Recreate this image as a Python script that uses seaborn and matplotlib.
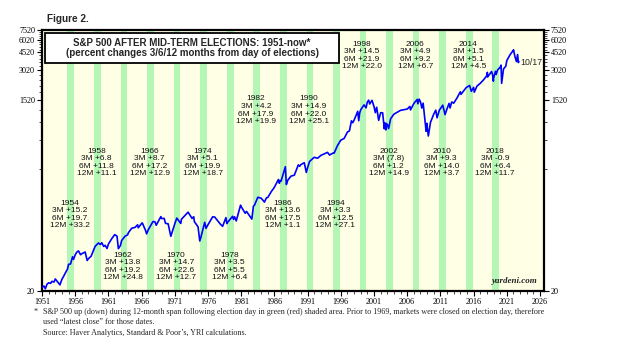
import matplotlib
matplotlib.use("Agg")
import matplotlib.pyplot as plt
from matplotlib.patches import Rectangle
from matplotlib.ticker import FixedLocator, NullFormatter
import seaborn as sns
import pandas as pd
import numpy as np

# S&P 500 (decimal year, index level)
spx_dates = [
    1951.0, 1951.3, 1951.5, 1951.75, 1952.0, 1952.3, 1952.5, 1952.8, 1953.0, 1953.2,
    1953.7, 1954.0, 1954.3, 1954.6, 1954.84, 1955.0, 1955.3, 1955.6, 1955.75, 1956.0,
    1956.25, 1956.5, 1956.8, 1957.0, 1957.5, 1957.8, 1958.0, 1958.4, 1958.84, 1959.0,
    1959.5, 1959.8, 1960.0, 1960.3, 1960.5, 1960.8, 1961.0, 1961.5, 1961.95, 1962.3,
    1962.5, 1962.8, 1963.0, 1963.5, 1963.9, 1964.0, 1964.5, 1965.0, 1965.4, 1965.5,
    1966.0, 1966.1, 1966.6, 1966.75, 1967.0, 1967.7, 1968.0, 1968.2, 1968.9, 1969.0,
    1969.4, 1969.6, 1970.0, 1970.4, 1970.8, 1971.0, 1971.3, 1971.9, 1972.0, 1972.9,
    1973.0, 1973.6, 1973.85, 1973.95, 1974.5, 1974.76, 1974.95, 1975.5, 1975.7, 1976.0,
    1976.7, 1977.0, 1977.9, 1978.2, 1978.7, 1978.84, 1979.0, 1979.7, 1979.85, 1980.0,
    1980.25, 1980.9, 1981.0, 1981.6, 1981.8, 1982.6, 1982.84, 1983.0, 1983.5, 1984.0,
    1984.5, 1984.8, 1985.0, 1985.5, 1986.0, 1986.6, 1986.75, 1986.84, 1987.0, 1987.65,
    1987.8, 1988.0, 1988.5, 1989.0, 1989.6, 1989.8, 1990.0, 1990.5, 1990.8, 1991.0,
    1991.3, 1992.0, 1992.5, 1993.0, 1994.0, 1994.3, 1994.85, 1995.0, 1995.5, 1996.0,
    1996.5, 1997.0, 1997.3, 1997.6, 1997.8, 1998.0, 1998.55, 1998.7, 1998.84, 1999.0,
    1999.5, 1999.8, 2000.0, 2000.2, 2000.35, 2000.7, 2001.0, 2001.2, 2001.4, 2001.7,
    2002.0, 2002.3, 2002.55, 2002.6, 2002.78, 2002.84, 2003.0, 2003.2, 2003.5, 2004.0,
    2005.0, 2006.0, 2006.4, 2006.5, 2007.0, 2007.5, 2007.6, 2007.8, 2008.0, 2008.2,
    2008.4, 2008.85, 2008.95, 2009.18, 2009.5, 2010.0, 2010.3, 2010.5, 2010.84, 2011.0,
    2011.35, 2011.7, 2012.0, 2012.3, 2012.45, 2012.7, 2013.0, 2013.5, 2014.0, 2014.1,
    2014.84, 2015.0, 2015.4, 2015.65, 2016.0, 2016.1, 2016.5, 2017.0, 2017.5, 2018.0,
    2018.07, 2018.11, 2018.7, 2018.84, 2018.98, 2019.0, 2019.3, 2019.4, 2019.6, 2020.0,
    2020.13, 2020.22, 2020.5, 2020.85, 2021.0, 2021.5, 2022.0, 2022.01, 2022.2, 2022.45,
    2022.62, 2022.75, 2022.79,
]
spx_close = [
    21.7, 22.4, 21.0, 23.3, 24.1, 23.8, 24.9, 24.5, 26.3, 25.3,
    23.0, 26.1, 28.3, 30.9, 33.0, 36.6, 37.0, 43.5, 41.0, 45.5,
    48.5, 49.7, 45.6, 46.7, 48.5, 40.0, 41.7, 44.1, 51.9, 55.2,
    59.5, 57.5, 59.9, 55.0, 56.5, 52.5, 58.1, 65.6, 72.0, 69.5,
    52.3, 56.0, 63.0, 69.4, 71.7, 75.0, 83.2, 84.8, 90.0, 84.1,
    92.9, 94.0, 79.0, 73.2, 80.3, 96.7, 96.5, 89.1, 108.4, 103.9,
    104.0, 93.0, 92.0, 69.3, 84.0, 92.1, 104.8, 92.8, 102.1, 118.1,
    119.9, 104.0, 108.0, 96.6, 86.0, 62.3, 68.6, 95.2, 83.0, 90.2,
    107.8, 107.5, 90.7, 86.9, 106.0, 92.5, 96.1, 109.0, 101.8, 107.9,
    98.2, 140.5, 135.8, 117.0, 122.0, 102.4, 137.5, 140.6, 168.1, 164.9,
    150.7, 166.1, 167.2, 190.0, 211.3, 252.0, 231.3, 246.5, 242.2, 336.8,
    224.8, 247.1, 272.0, 277.7, 351.5, 340.0, 353.4, 368.9, 295.5, 330.2,
    380.0, 417.1, 408.0, 435.7, 466.5, 438.9, 460.0, 459.3, 545.0, 615.9,
    640.0, 740.7, 760.0, 955.0, 914.6, 970.4, 1186.0, 957.3, 1140.0, 1229.2,
    1372.7, 1282.0, 1469.3, 1527.5, 1400.0, 1520.8, 1320.3, 1150.0, 1300.0, 965.8,
    1148.1, 1147.0, 797.7, 916.0, 776.8, 900.0, 879.8, 800.7, 1000.0, 1111.9,
    1211.9, 1248.3, 1325.0, 1223.7, 1418.3, 1552.5, 1406.7, 1565.2, 1468.4, 1276.6,
    1426.6, 752.4, 903.3, 676.5, 919.3, 1115.1, 1217.3, 1022.6, 1221.5, 1257.6,
    1363.6, 1099.2, 1257.6, 1419.0, 1278.0, 1465.8, 1426.2, 1606.3, 1848.4, 1741.9,
    2017.0, 2058.9, 2130.8, 1867.6, 2043.9, 1829.1, 2098.9, 2238.8, 2423.4, 2673.6,
    2872.9, 2581.0, 2930.8, 2755.0, 2351.1, 2506.9, 2945.8, 2744.5, 3025.9, 3230.8,
    3386.2, 2237.4, 3100.3, 3310.0, 3756.1, 4297.5, 4766.2, 4796.6, 4170.7, 3666.8,
    4305.2, 3585.6, 3677.0,
]

# mid-term election years and % changes 3/6/12 months after election day
election_years = [1954, 1958, 1962, 1966, 1970, 1974, 1978, 1982, 1986,
                  1990, 1994, 1998, 2002, 2006, 2010, 2014, 2018]
chg_3m = ["+15.2", "+6.8", "+13.8", "+8.7", "+14.7", "+5.1", "+3.5", "+4.2", "+13.6",
          "+14.9", "+3.3", "+14.5", "(7.8)", "+4.9", "+9.3", "+1.5", "-0.9"]
chg_6m = ["+19.7", "+11.8", "+19.2", "+17.2", "+22.6", "+19.9", "+5.5", "+17.9", "+17.5",
          "+22.0", "+12.5", "+21.9", "+1.2", "+9.2", "+14.0", "+5.1", "+6.4"]
chg_12m = ["+33.2", "+11.1", "+24.8", "+12.9", "+12.7", "+18.7", "+6.4", "+19.9", "+1.1",
           "+25.1", "+27.1", "+22.0", "+14.9", "+6.7", "+3.7", "+4.5", "+11.7"]
# vertical slot of each label block (axes fraction of its centre)
label_y = [0.293, 0.492, 0.094, 0.492, 0.094, 0.492, 0.094, 0.692, 0.293,
           0.692, 0.293, 0.902, 0.492, 0.902, 0.492, 0.902, 0.492]

y_ticks = [20, 1520, 3020, 4520, 6020, 7520]

df = pd.DataFrame({"date": spx_dates, "spx": spx_close})

sns.set_style("ticks")
plt.rcParams["font.family"] = ["Liberation Sans", "DejaVu Sans"]

fig = plt.figure(figsize=(6.24, 3.53), dpi=100, facecolor="white")
ax = fig.add_axes([42 / 624, 1 - 291 / 353, 502 / 624, 261 / 353])
ax.set_facecolor("#ffffe6")

# shaded 12-month spans after election day
for yr in election_years:
    ax.axvspan(yr + 0.84, yr + 1.84, color="#b4f7b4", lw=0, zorder=0)

sns.lineplot(data=df, x="date", y="spx", ax=ax, color="#0000ff", lw=1.2,
             estimator=None, sort=False, zorder=3)

ax.set_yscale("log")
ax.set_xlim(1951, 2026.6)
ax.set_ylim(20, 7520)
ax.set_xlabel("")
ax.set_ylabel("")

# axes, ticks
ax.xaxis.set_major_locator(FixedLocator(np.arange(1951, 2027, 5)))
ax.xaxis.set_minor_locator(FixedLocator(np.arange(1951, 2027, 1)))
ax.yaxis.set_major_locator(FixedLocator(y_ticks))
ax.yaxis.set_minor_locator(FixedLocator(np.arange(20, 7521, 300)))
ax.yaxis.set_minor_formatter(NullFormatter())
ax.set_yticklabels([str(t) for t in y_ticks])
ax.tick_params(axis="both", which="major", direction="out", length=3.5, width=0.8,
               labelsize=5.9, pad=1.5, colors="black")
ax.tick_params(axis="both", which="minor", direction="out", length=2, width=0.6)
ax.tick_params(axis="y", which="both", left=True, right=True, labelright=True)
for lab in ax.get_xticklabels() + ax.get_yticklabels():
    lab.set_family("Liberation Serif")
for sp in ax.spines.values():
    sp.set_visible(True)
    sp.set_linewidth(1.6)
    sp.set_color("black")

# label blocks above each band
tr = ax.get_xaxis_transform()
for i, yr in enumerate(election_years):
    txt = f"{yr}\n3M {chg_3m[i]}\n6M {chg_6m[i]}\n12M {chg_12m[i]}"
    ax.text(yr + 1.2, label_y[i], txt, transform=tr, ha="center", va="center",
            fontsize=6.0, linespacing=1.12, color="#111111", zorder=4)

ax.text(2023.0, 3600, "10/17", ha="left", va="center", fontsize=6.3, zorder=4)
ax.text(0.988, 0.022, "yardeni.com", transform=ax.transAxes, ha="right", va="bottom",
        fontsize=6.5, family="Liberation Serif", style="italic", weight="bold", zorder=4)

# title box
fig.patches.append(Rectangle((45 / 624, 1 - 63 / 353), 294 / 624, 30 / 353,
                             transform=fig.transFigure, facecolor="white",
                             edgecolor="black", lw=1.3, zorder=5))
fig.text(192 / 624, 1 - 43 / 353, "S&P 500 AFTER MID-TERM ELECTIONS: 1951-now*",
         ha="center", va="center", fontsize=7.0, weight="bold", zorder=6)
fig.text(192 / 624, 1 - 53.5 / 353, "(percent changes 3/6/12 months from day of elections)",
         ha="center", va="center", fontsize=7.0, weight="bold", zorder=6)
fig.text(47 / 624, 1 - 19 / 353, "Figure 2.", ha="left", va="center",
         fontsize=7.2, weight="bold")

# footnote
foot = dict(fontsize=5.85, family="Liberation Serif", va="center", ha="left")
fig.text(34 / 624, 1 - 312 / 353, "*", **foot)
fig.text(43 / 624, 1 - 312 / 353,
         "S&P 500 up (down) during 12-month span following election day in green (red) shaded area. "
         "Prior to 1969, markets were closed on election day, therefore", **foot)
fig.text(43 / 624, 1 - 322.5 / 353, "used \u201clatest close\u201d for those dates.", **foot)
fig.text(43 / 624, 1 - 333 / 353, "Source: Haver Analytics, Standard & Poor\u2019s, YRI calculations.", **foot)

fig.savefig("out.png", dpi=100, facecolor="white")
